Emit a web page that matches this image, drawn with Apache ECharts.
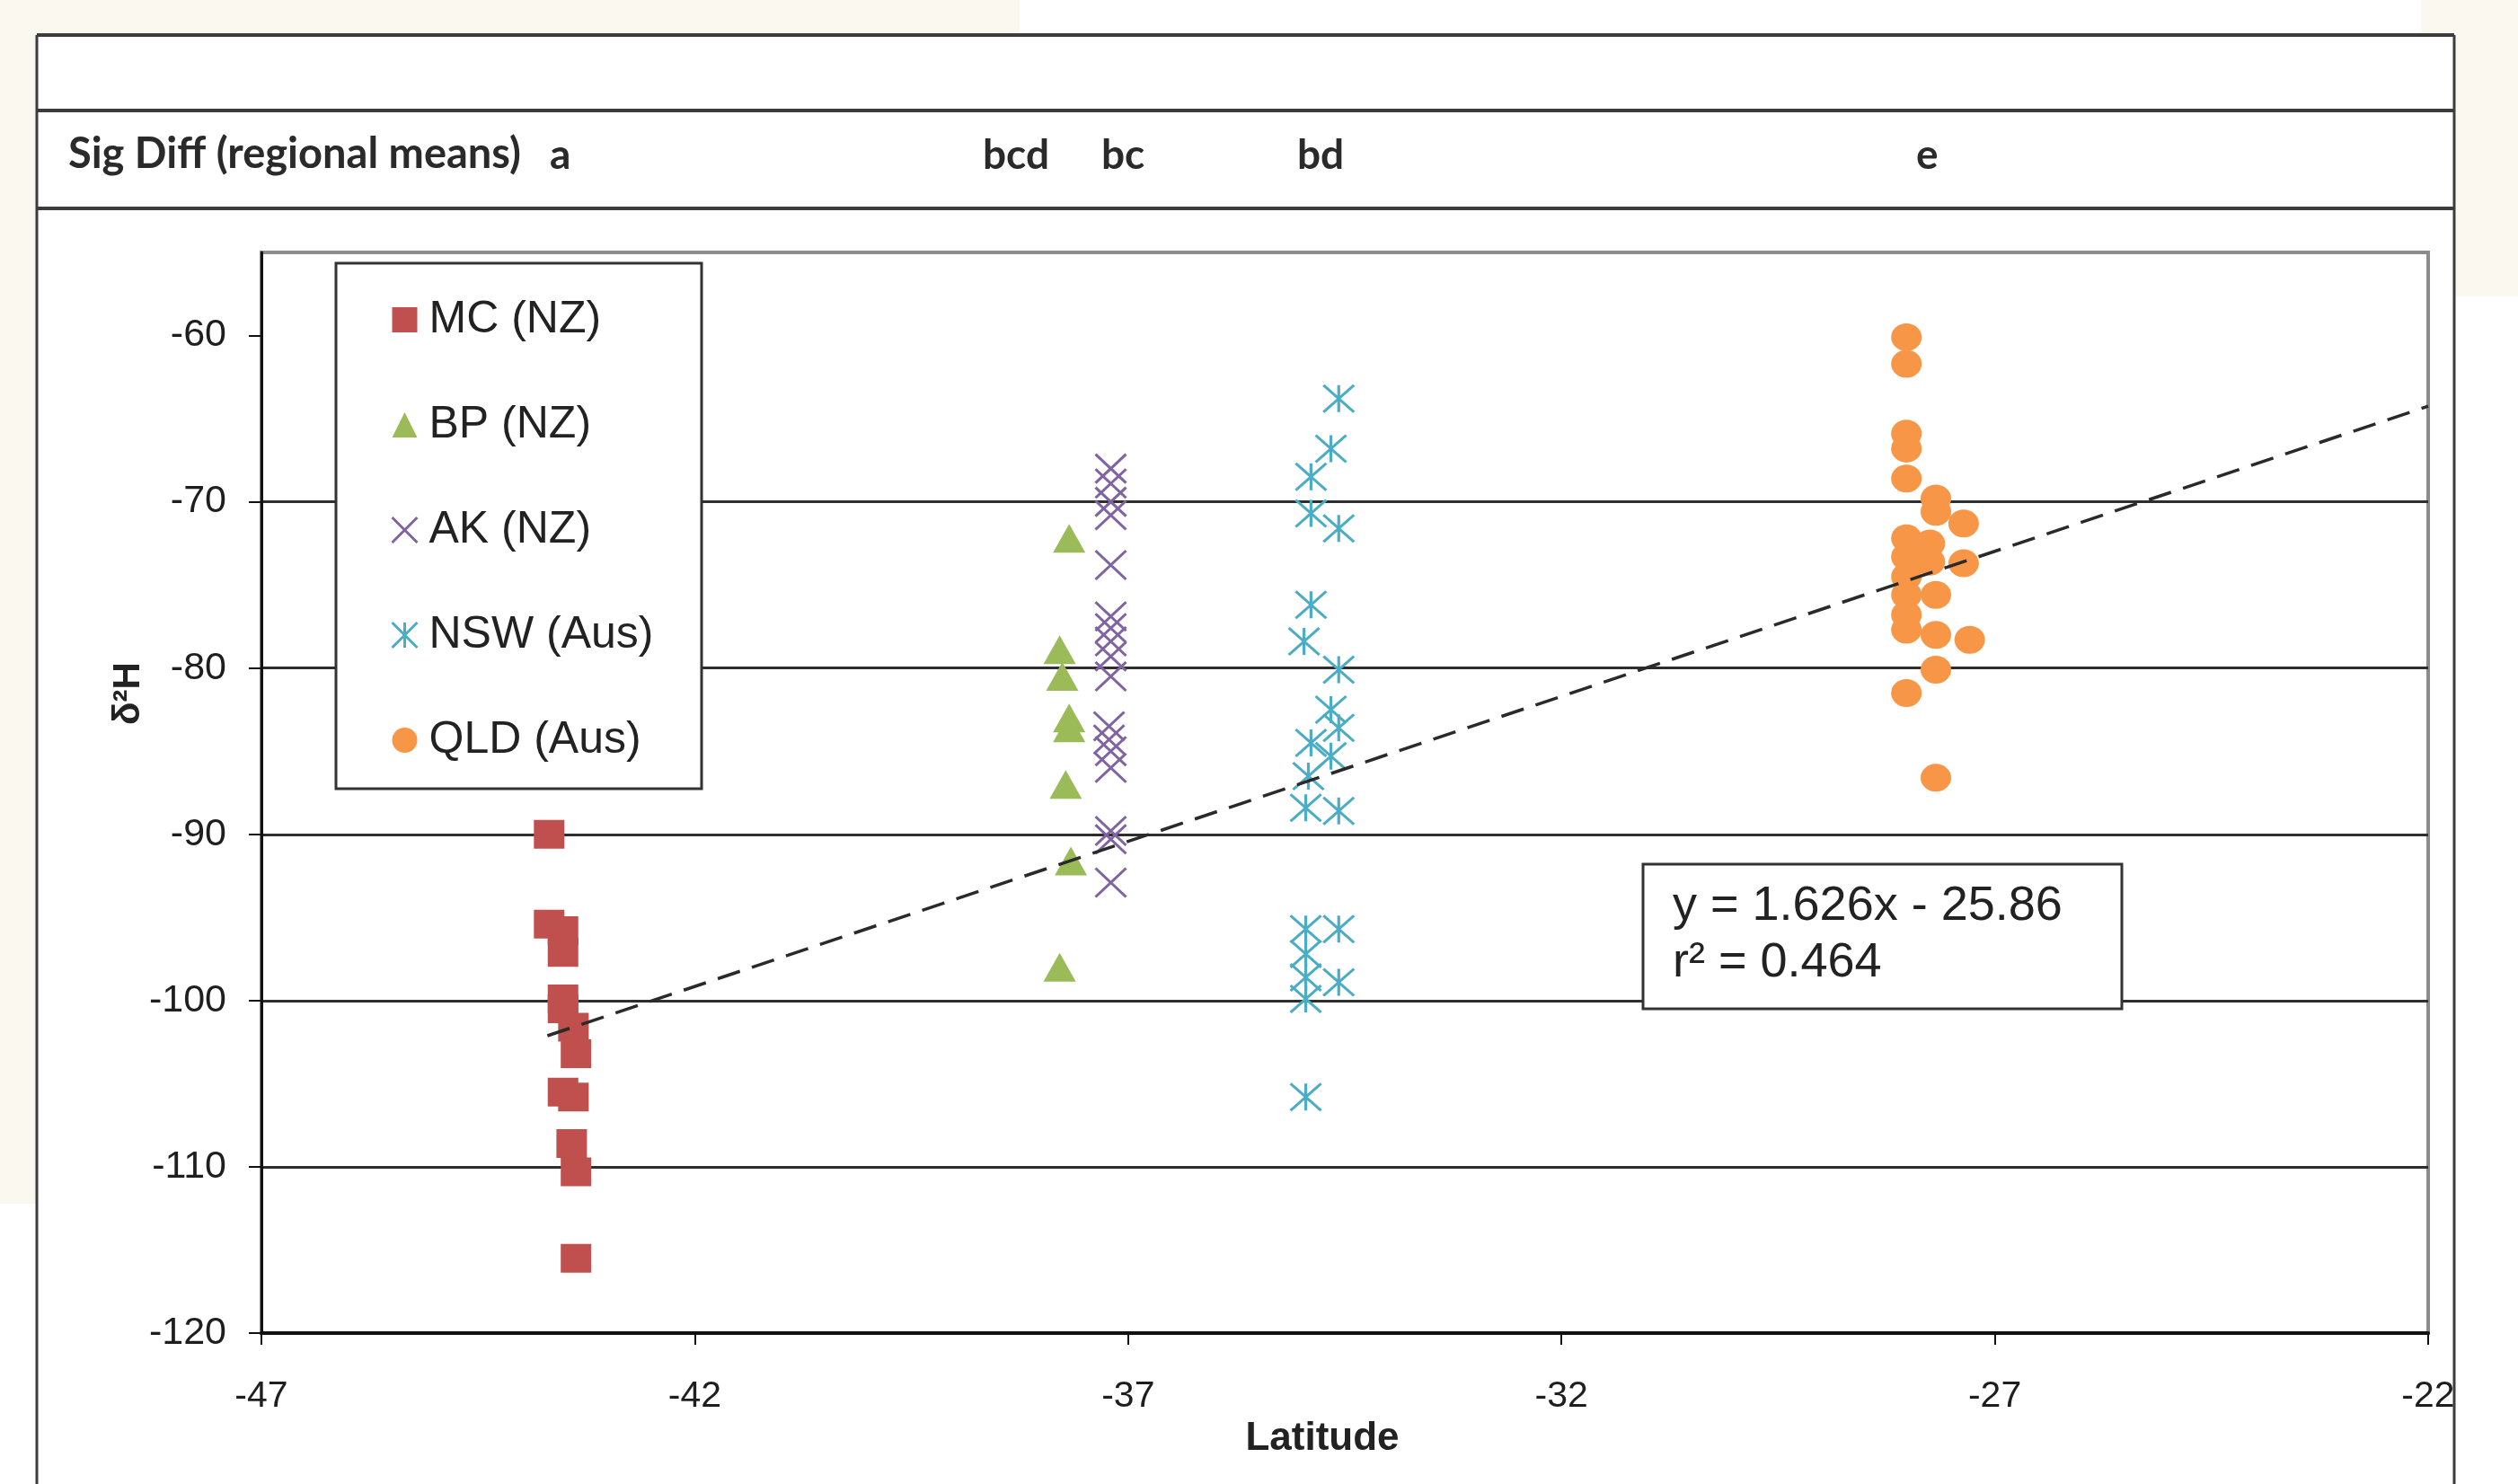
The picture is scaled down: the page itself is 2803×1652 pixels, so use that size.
<!DOCTYPE html>
<html>
<head>
<meta charset="utf-8">
<script src="https://cdn.jsdelivr.net/npm/echarts@6/dist/echarts.min.js"></script>
<style>
html, body { margin: 0; padding: 0; background: #fff; }
#main { width: 2803px; height: 1652px; }
</style>
</head>
<body>
<div id="main"></div>
<script>
// axis ticks
var latTicks = [-47, -42, -37, -32, -27, -22];
var d2hTicks = [-120, -110, -100, -90, -80, -70, -60];

// MC (NZ)
var mcLat = [-43.68, -43.68, -43.52, -43.52, -43.52, -43.52, -43.40, -43.37, -43.52, -43.40, -43.42, -43.37, -43.37];
var mcH = [-90.0, -95.4, -95.8, -97.1, -99.9, -100.5, -101.6, -103.2, -105.5, -105.8, -108.6, -110.3, -115.5];

// BP (NZ)
var bpLat = [-37.68, -37.79, -37.76, -37.68, -37.68, -37.72, -37.66, -37.79];
var bpH = [-72.2, -78.9, -80.5, -83.0, -83.6, -87.0, -91.6, -98.0];

// AK (NZ)
var akLat = [-37.20, -37.20, -37.20, -37.20, -37.20, -37.20, -37.20, -37.20, -37.20, -37.20, -37.22, -37.22, -37.20, -37.20, -37.20, -37.20, -37.20];
var akH = [-68.0, -68.9, -70.0, -70.8, -73.8, -76.9, -77.6, -78.4, -79.3, -80.5, -83.5, -84.3, -85.0, -86.0, -89.8, -90.3, -92.9];

// NSW (Aus)
var nswLat = [-34.57, -34.66, -34.89, -34.89, -34.57, -34.89, -34.97, -34.57, -34.66, -34.57, -34.89, -34.66, -34.92, -34.95, -34.57, -34.95, -34.57, -34.95, -34.95, -34.57, -34.95, -34.95];
var nswH = [-63.8, -66.8, -68.5, -70.7, -71.6, -76.2, -78.4, -80.1, -82.5, -83.6, -84.5, -85.3, -86.5, -88.4, -88.6, -95.7, -95.7, -97.2, -98.6, -98.9, -99.9, -105.8];

// QLD (Aus)
var qldLat = [-28.02, -28.02, -28.02, -28.02, -28.02, -28.02, -28.02, -28.02, -28.02, -28.02, -28.02, -28.02,
              -27.68, -27.68, -27.75, -27.75, -27.68, -27.68, -27.68, -27.68,
              -27.36, -27.36, -27.29];
var qldH = [-60.1, -61.7, -65.9, -66.8, -68.6, -72.2, -73.3, -74.5, -75.6, -76.8, -77.7, -81.5,
            -69.8, -70.6, -72.5, -73.6, -75.6, -78.0, -80.1, -86.6,
            -71.3, -73.7, -78.3];

// trend line as drawn, and its label
var trendSlope = 1.745;
var trendIntercept = -25.86;
var trendFrom = -43.7;
var trendTo = -22;
var eqLines = ['y = 1.626x - 25.86', 'r² = 0.464'];

// significance letters over each region
var sigLabels = ['a', 'bcd', 'bc', 'bd', 'e'];
var sigX = [612, 1094, 1226, 1444, 2133];

var seriesNames = ['MC (NZ)', 'BP (NZ)', 'AK (NZ)', 'NSW (Aus)', 'QLD (Aus)'];
var colors = ['#C0504D', '#9BBB59', '#8064A2', '#4BACC6', '#F79646'];

var crossPath = 'path://M0,0L10,10M10,0L0,10';
var starPath = 'path://M0,0L10,10M10,0L0,10M5,0L5,10';

function pairs(xs, ys) {
    return xs.map(function (x, i) { return [x, ys[i]]; });
}

var font = 'Liberation Sans';
var frame = '#3c3c3c';
var cream = '#FBF8F0';

var myChart = echarts.init(document.getElementById('main'));

var graphics = [
    // scanned page background
    { type: 'rect', shape: { x: 0, y: 0, width: 1135, height: 37 }, style: { fill: cream }, z: -2 },
    { type: 'rect', shape: { x: 0, y: 0, width: 40, height: 1340 }, style: { fill: cream }, z: -2 },
    { type: 'rect', shape: { x: 2695, y: 0, width: 108, height: 37 }, style: { fill: cream }, z: -2 },
    { type: 'rect', shape: { x: 2734, y: 0, width: 69, height: 330 }, style: { fill: cream }, z: -2 },
    // outer table frame
    { type: 'line', shape: { x1: 41, y1: 39, x2: 2732, y2: 39 }, style: { stroke: frame, lineWidth: 4 }, z: -1 },
    { type: 'line', shape: { x1: 41, y1: 123, x2: 2732, y2: 123 }, style: { stroke: frame, lineWidth: 4 }, z: -1 },
    { type: 'line', shape: { x1: 41, y1: 232, x2: 2732, y2: 232 }, style: { stroke: frame, lineWidth: 4 }, z: -1 },
    { type: 'line', shape: { x1: 41, y1: 39, x2: 41, y2: 1652 }, style: { stroke: frame, lineWidth: 3 }, z: -1 },
    { type: 'line', shape: { x1: 2732, y1: 39, x2: 2732, y2: 1652 }, style: { stroke: frame, lineWidth: 3 }, z: -1 },
    { type: 'text', left: 76, top: 148, style: { text: 'Sig Diff (regional means)', font: 'bold 47px Lato', fill: '#2a2a2a' } },
    // y axis title
    { type: 'text', x: 143, y: 772, rotation: Math.PI / 2,
      style: { text: 'δ²H', font: 'bold 42px ' + font, fill: '#222', textAlign: 'center', textVerticalAlign: 'middle' } },
    // legend box
    { type: 'rect', shape: { x: 374, y: 293, width: 407, height: 585 }, style: { fill: '#fff', stroke: '#333', lineWidth: 3 }, z: 3 },
    // equation box
    { type: 'rect', shape: { x: 1829, y: 962, width: 533, height: 161 }, style: { fill: '#fff', stroke: '#333', lineWidth: 3 }, z: 3 },
    { type: 'text', left: 1862, top: 982, style: { text: eqLines[0], font: '54px ' + font, fill: '#222' }, z: 4 },
    { type: 'text', left: 1862, top: 1045, style: { text: eqLines[1], font: '54px ' + font, fill: '#222' }, z: 4 }
];
sigLabels.forEach(function (s, i) {
    graphics.push({ type: 'text', left: sigX[i], top: 150, style: { text: s, font: 'bold 46px Lato', fill: '#2a2a2a' } });
});

var option = {
    animation: false,
    backgroundColor: '#fff',
    graphic: graphics,
    grid: {
        left: 291, top: 281, width: 2412, height: 1203,
        show: true, borderColor: '#8c8c8c', borderWidth: 4
    },
    legend: {
        orient: 'vertical', left: 430, top: 326,
        itemWidth: 28, itemHeight: 28, itemGap: 67,
        selectedMode: false, z: 5,
        textStyle: { fontFamily: font, fontSize: 50, color: '#222', padding: [0, 0, 0, 8] },
        data: [
            { name: seriesNames[0], icon: 'rect', itemStyle: { color: colors[0] } },
            { name: seriesNames[1], icon: 'triangle', itemStyle: { color: colors[1] } },
            { name: seriesNames[2], icon: crossPath, itemStyle: { color: 'rgba(0,0,0,0)', borderColor: colors[2], borderWidth: 3 } },
            { name: seriesNames[3], icon: starPath, itemStyle: { color: 'rgba(0,0,0,0)', borderColor: colors[3], borderWidth: 3 } },
            { name: seriesNames[4], icon: 'circle', itemStyle: { color: colors[4] } }
        ]
    },
    xAxis: {
        type: 'value', min: -47, max: -22,
        name: 'Latitude', nameLocation: 'middle', nameGap: 96,
        nameTextStyle: { fontFamily: font, fontSize: 44, fontWeight: 'bold', color: '#222', padding: [0, 50, 0, 0] },
        axisLine: { onZero: false, lineStyle: { color: '#111', width: 4 } },
        axisTick: { show: true, length: 13, customValues: latTicks, lineStyle: { color: '#111', width: 2 } },
        axisLabel: { customValues: latTicks, margin: 50, fontFamily: font, fontSize: 41, color: '#1e1e1e' },
        splitLine: { show: false }
    },
    yAxis: {
        type: 'value', min: -120, max: -55, interval: 10,
        axisLine: { show: true, onZero: false, lineStyle: { color: '#111', width: 3 } },
        axisTick: { show: true, length: 14, customValues: d2hTicks, lineStyle: { color: '#111', width: 2 } },
        axisLabel: { customValues: d2hTicks, margin: 39, fontFamily: font, fontSize: 43, color: '#1e1e1e' },
        splitLine: { show: true, showMaxLine: false, lineStyle: { color: '#2e2e2e', width: 3 } }
    },
    series: [
        {
            name: seriesNames[0], type: 'scatter', data: pairs(mcLat, mcH),
            symbol: 'rect', symbolSize: [34, 32], itemStyle: { color: colors[0], opacity: 1 }
        },
        {
            name: seriesNames[1], type: 'scatter', data: pairs(bpLat, bpH),
            symbol: 'triangle', symbolSize: [36, 32], itemStyle: { color: colors[1], opacity: 1 }
        },
        {
            name: seriesNames[2], type: 'scatter', data: pairs(akLat, akH),
            symbol: crossPath, symbolSize: [34, 32],
            itemStyle: { color: 'rgba(0,0,0,0)', borderColor: colors[2], borderWidth: 3, opacity: 1 }
        },
        {
            name: seriesNames[3], type: 'scatter', data: pairs(nswLat, nswH),
            symbol: starPath, symbolSize: [34, 30],
            itemStyle: { color: 'rgba(0,0,0,0)', borderColor: colors[3], borderWidth: 3, opacity: 1 }
        },
        {
            name: seriesNames[4], type: 'scatter', data: pairs(qldLat, qldH),
            symbol: 'circle', symbolSize: [34, 31], itemStyle: { color: colors[4], opacity: 1 }
        },
        {
            name: 'trend', type: 'line', symbol: 'none', silent: true, z: 3,
            data: [
                [trendFrom, trendSlope * trendFrom + trendIntercept],
                [trendTo, trendSlope * trendTo + trendIntercept]
            ],
            lineStyle: { color: '#2a2a2a', width: 3.5, type: [26, 14] }
        }
    ]
};

myChart.setOption(option);
</script>
</body>
</html>
